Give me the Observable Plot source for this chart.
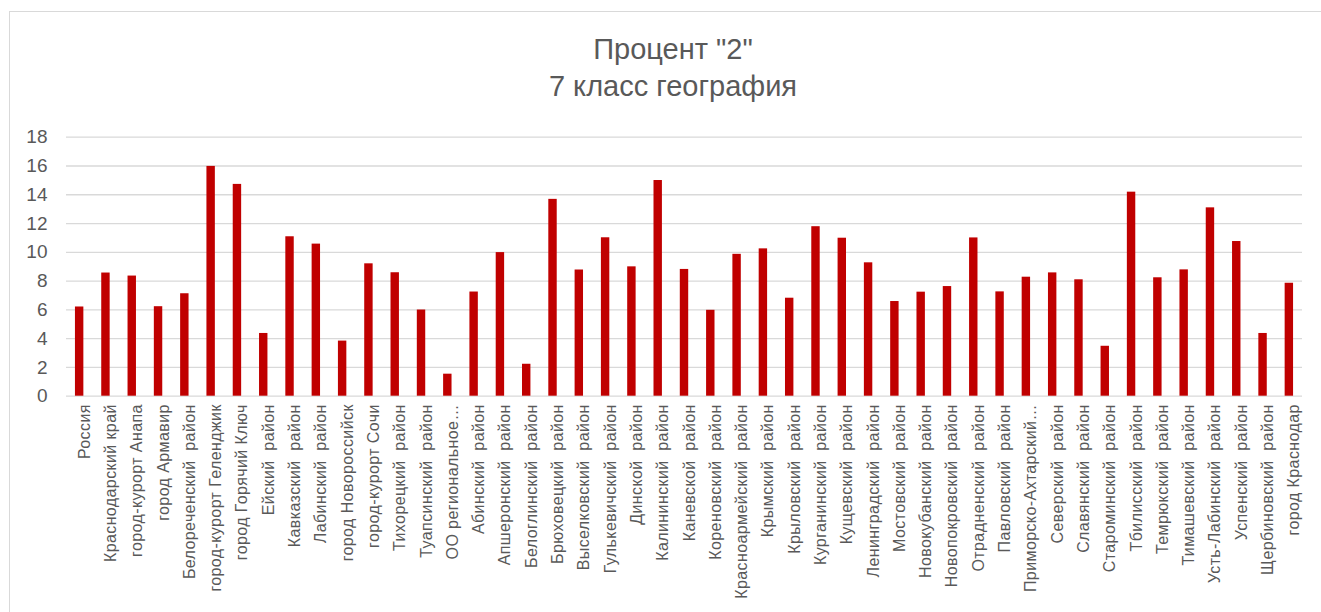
<!DOCTYPE html>
<html>
<head>
<meta charset="utf-8">
<script src="https://cdn.jsdelivr.net/npm/d3@7"></script>
<script src="https://cdn.jsdelivr.net/npm/@observablehq/plot@0.6"></script>
<style>
  html, body { margin: 0; padding: 0; background: #fff; overflow: hidden; }
  #wrap { position: relative; width: 1321px; height: 612px; }
  #frame { position: absolute; left: 9px; top: 11px; width: 1400px; height: 700px; border: 1px solid #d9d9d9; box-sizing: border-box; pointer-events: none; }
  #title { box-sizing: border-box; height: 115px; padding-top: 31px; padding-left: 25px; width: 1321px; text-align: center;
           font-family: "Liberation Sans", Arimo, sans-serif; font-size: 29px; line-height: 37px; color: #595959; }
  svg text { white-space: pre; }
  svg .xlab text { letter-spacing: 0.4px; font-size: 16px; }
  svg .ylab text { font-size: 19px; }
</style>
</head>
<body>
<div id="wrap">
  <div id="title">Процент "2"<br>7 класс география</div>
  <div id="chart"></div>
  <div id="frame"></div>
</div>
<script>
const categories = [
  "Россия", "Краснодарский край", "город-курорт Анапа", "город Армавир", "Белореченский  район",
  "город-курорт Геленджик", "город Горячий Ключ", "Ейский  район", "Кавказский  район", "Лабинский  район",
  "город Новороссийск", "город-курорт Сочи", "Тихорецкий  район", "Туапсинский  район", "ОО региональное…",
  "Абинский  район", "Апшеронский  район", "Белоглинский  район", "Брюховецкий  район", "Выселковский  район",
  "Гулькевичский  район", "Динской  район", "Калининский  район", "Каневской  район", "Кореновский  район",
  "Красноармейский  район", "Крымский  район", "Крыловский  район", "Курганинский  район", "Кущевский  район",
  "Ленинградский  район", "Мостовский  район", "Новокубанский  район", "Новопокровский  район", "Отрадненский  район",
  "Павловский  район", "Приморско-Ахтарский…", "Северский  район", "Славянский  район", "Староминский  район",
  "Тбилисский  район", "Темрюкский  район", "Тимашевский  район", "Усть-Лабинский  район", "Успенский  район",
  "Щербиновский  район", "город Краснодар"
];
const values = [
  6.2, 8.56, 8.35, 6.22, 7.12,
  15.97, 14.72, 4.36, 11.08, 10.57,
  3.83, 9.2, 8.58, 5.99, 1.53,
  7.24, 9.98, 2.22, 13.68, 8.77,
  11.01, 8.99, 14.99, 8.81, 5.97,
  9.86, 10.24, 6.81, 11.78, 10.98,
  9.27, 6.58, 7.23, 7.62, 11.0,
  7.25, 8.27, 8.57, 8.09, 3.47,
  14.18, 8.23, 8.78, 13.09, 10.75,
  4.36, 7.85
];
const yTicks = [0, 2, 4, 6, 8, 10, 12, 14, 16, 18];

const data = categories.map((c, i) => ({category: c, value: values[i]}));

const FONT = "Liberation Sans, Arimo, sans-serif";

const chart = Plot.plot({
  width: 1321,
  height: 497,
  marginTop: 21.7,
  marginLeft: 66,
  marginRight: 19,
  marginBottom: 216.3,
  style: {fontFamily: FONT, color: "#595959", background: "transparent"},
  x: {domain: categories, paddingInner: 0.68, paddingOuter: 0.34, round: false, axis: null},
  y: {domain: [0, 18], axis: null},
  marks: [
    Plot.ruleY(yTicks, {stroke: "#d9d9d9", strokeWidth: 1.3, strokeOpacity: 1}),
    Plot.barY(data, {x: "category", y: "value", fill: "#c00000"}),
    Plot.text(yTicks, {y: d => d, text: d => String(d), frameAnchor: "left", textAnchor: "end", dx: -19, fontSize: 19, fill: "#595959", className: "ylab"}),
    Plot.text(categories, {x: d => d, frameAnchor: "bottom", rotate: -90, textAnchor: "end", dy: 8, dx: 10, fontSize: 16, fill: "#595959", className: "xlab"})
  ]
});
document.getElementById("chart").appendChild(chart);
</script>
</body>
</html>
